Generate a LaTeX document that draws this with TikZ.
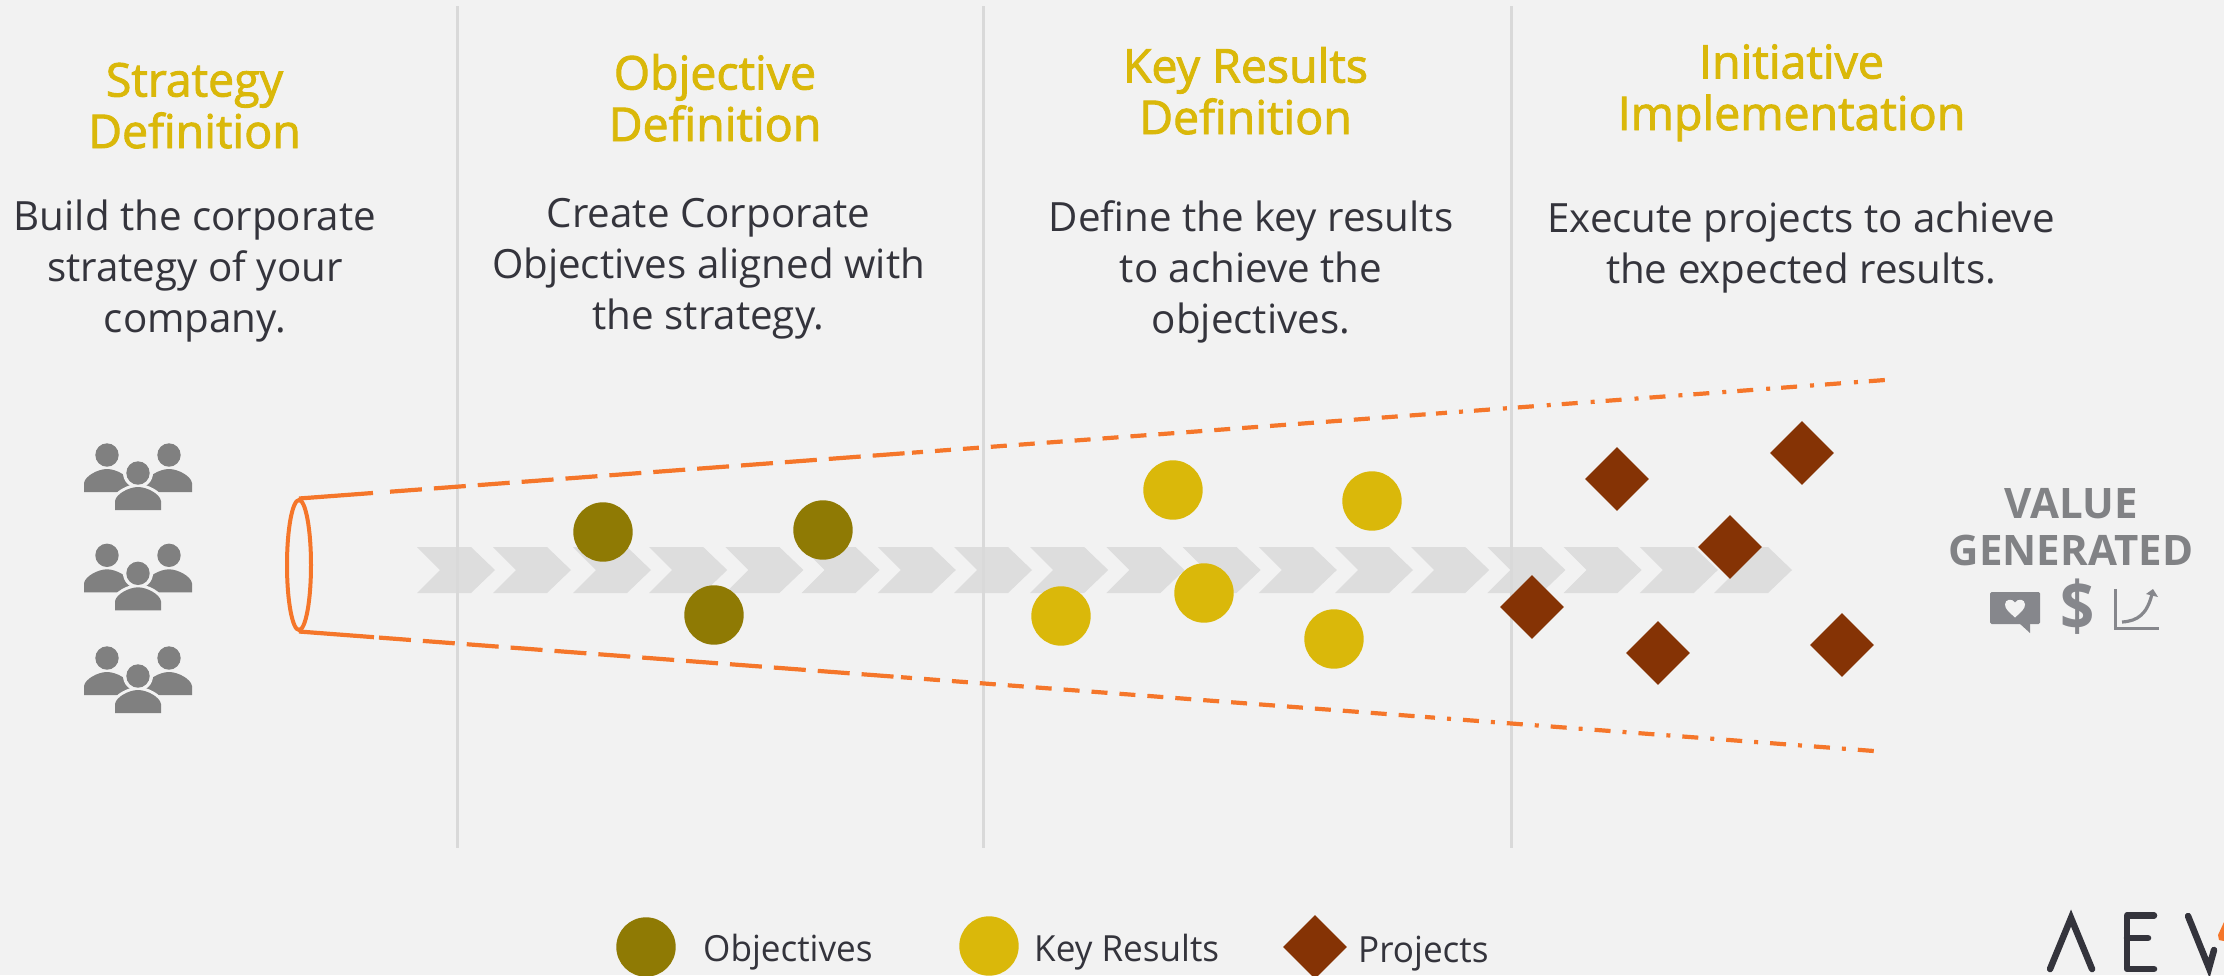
\documentclass[tikz,border=0pt]{standalone}
\usepackage{fontspec}
\setmainfont{Open Sans}
\usetikzlibrary{calc,shapes.geometric}
\definecolor{bgc}{HTML}{F2F2F2}
\definecolor{rulec}{HTML}{D9D9D9}
\definecolor{chevc}{HTML}{DDDDDD}
\definecolor{orangec}{HTML}{F5762A}
\definecolor{objc}{HTML}{8F7A04}
\definecolor{krc}{HTML}{DAB80A}
\definecolor{prc}{HTML}{853305}
\definecolor{inkc}{HTML}{34343C}
\definecolor{greyc}{HTML}{808080}
\definecolor{valc}{HTML}{818285}
\definecolor{iconc}{HTML}{86878C}
\newfontfamily\headfont[FakeBold=2]{Open Sans}
\newfontfamily\bodyfont{Open Sans}
\newfontfamily\legfont[FakeStretch=0.975]{Open Sans}
\newfontfamily\dollarfont[FakeStretch=0.88]{Open Sans}
\tikzset{
  x=1pt,y=-1pt,
  headtext/.style={inner sep=0,anchor=base,align=center,text=krc,font=\headfont\fontsize{46.5}{51.5}\selectfont},
  bodytext/.style={inner sep=0,anchor=base,align=center,text=inkc,font=\bodyfont\fontsize{40.3}{51}\selectfont},
  legendtext/.style={inner sep=0,anchor=base west,text=inkc,font=\legfont\fontsize{36}{44}\selectfont},
  valtext/.style={inner sep=0,anchor=base,align=center,text=valc,font=\bodyfont\bfseries\fontsize{42}{47}\selectfont},
  objdot/.style={circle,fill=objc,minimum size=59.4,inner sep=0},
  krdot/.style={circle,fill=krc,minimum size=59.4,inner sep=0},
  prdia/.style={diamond,fill=prc,aspect=1,minimum width=64,minimum height=64,inner sep=0},
  divider/.style={draw=rulec,line width=3pt},
  conelin/.style={draw=orangec,line width=4.2pt},
  logostroke/.style={draw=inkc,line width=6.5pt,line cap=round,line join=miter},
  person/.pic={
    \fill[greyc] (0,0) circle (11.7);
    \fill[greyc] (-23,55-18) -- (-23,55-18-9) .. controls (-22,55-18-16) and (-9,55-18-23) .. (0,55-18-23)
       .. controls (9,55-18-23) and (22,55-18-16) .. (23,55-18-9) -- (23,55-18) -- cycle;
  },
  halo/.pic={
    \fill[bgc] (0,0) circle (15);
    \draw[bgc,line width=6pt,fill=bgc] (-23,37) -- (-23,28) .. controls (-22,21) and (-9,14) .. (0,14)
       .. controls (9,14) and (22,21) .. (23,28) -- (23,37) -- cycle;
  },
  crowd/.pic={
    \pic at (-31,-18) {person};
    \pic at (31,-18) {person};
    \pic at (0,0) {halo};
    \pic at (0,0) {person};
  },
}
% one piece of a cone edge, cut out by x position along the edge
\newcommand{\coneseg}[6]{%
  \draw[conelin,#6] ($(#1)!{(#3-299)/(#5-299)}!(#2)$) -- ($(#1)!{(#4-299)/(#5-299)}!(#2)$);}
\begin{document}
\begin{tikzpicture}
\useasboundingbox (0,0) rectangle (2224,975);
\clip (0,0) rectangle (2224,975);
\fill[bgc] (0,0) rectangle (2224,975);

% chevron band
\foreach \cx in {417,493,573,649.2,725.4,801.6,877.8,954,1030.2,1106.4,1182.6,1258.8,1335,1411.2,1487.4,1563.6,1639.8,1714}{
  \fill[chevc] (\cx,547) -- (\cx+54,547) -- (\cx+78,570) -- (\cx+54,593) -- (\cx,593) -- (\cx+23,570) -- cycle;
}
% column dividers
\coordinate (d1a) at (457,6); \coordinate (d1b) at (457,848);
\coordinate (d2a) at (983,6);  \coordinate (d2b) at (983,848);
\coordinate (d3a) at (1511,6); \coordinate (d3b) at (1511,848);
\draw[divider] (d1a) -- (d1b);
\draw[divider] (d2a) -- (d2b);
\draw[divider] (d3a) -- (d3b);

% headings
\node[headtext] (h1) at (194.5,148) {Strategy\\Definition};
\node[headtext] (h2) at (715,141) {Objective\\Definition};
\node[headtext] (h3) at (1245.5,134) {Key Results\\Definition};
\node[headtext] (h4) at (1791.5,130) {Initiative\\Implementation};

% descriptions
\node[bodytext] (b1) at (195,332) {Build the corporate\\strategy of your\\company.};
\node[bodytext] (b2) at (708.5,329) {Create Corporate\\Objectives aligned with\\the strategy.};
\node[bodytext] (b3) at (1251,333) {Define the key results\\to achieve the\\objectives.};
\node[bodytext] (b4) at (1801,283) {Execute projects to achieve\\the expected results.};

% people
\pic at (138,473) {crowd};
\pic at (138,573.3) {crowd};
\pic at (138,676) {crowd};

% cone
\node[ellipse,draw=orangec,line width=4pt,minimum width=24,minimum height=130,inner sep=0] (cone) at (299,565) {};
\coordinate (tS) at (299,498.5);
\coordinate (tE) at (1885,380);
\coordinate (bS) at (299,631.5);
\coordinate (bE) at (1874,751);
\coneseg{tS}{tE}{299}{373}{1885}{}
\coneseg{tS}{tE}{390}{905}{1885}{dash pattern=on 32pt off 12pt}
\coneseg{tS}{tE}{912}{923}{1885}{}
\coneseg{tS}{tE}{935}{1426}{1885}{dash pattern=on 16pt off 12pt}
\coneseg{tS}{tE}{1436}{1447}{1885}{}
\coneseg{tS}{tE}{1459}{1885}{1885}{dash pattern=on 4pt off 11pt on 16pt off 13pt}
\coneseg{bS}{bE}{299}{374}{1874}{}
\coneseg{bS}{bE}{379}{894}{1874}{dash pattern=on 32pt off 12pt}
\coneseg{bS}{bE}{901}{912}{1874}{}
\coneseg{bS}{bE}{924}{1415}{1874}{dash pattern=on 16pt off 12pt}
\coneseg{bS}{bE}{1425}{1435}{1874}{}
\coneseg{bS}{bE}{1447}{1874}{1874}{dash pattern=on 4pt off 12pt on 16pt off 12pt}

% objectives
\node[objdot] (o1) at (603,532) {};
\node[objdot] (o2) at (823,530) {};
\node[objdot] (o3) at (714,615) {};
% key results
\node[krdot] (k1) at (1173,490) {};
\node[krdot] (k2) at (1372,501) {};
\node[krdot] (k3) at (1204,593) {};
\node[krdot] (k4) at (1061,616) {};
\node[krdot] (k5) at (1334,639) {};
% projects
\node[prdia] (p1) at (1617,479) {};
\node[prdia] (p2) at (1802,453) {};
\node[prdia] (p3) at (1730,547) {};
\node[prdia] (p4) at (1532,607) {};
\node[prdia] (p5) at (1658,653) {};
\node[prdia] (p6) at (1842,645) {};

% value generated
\node[valtext] (val) at (2071,565) {VALUE\\GENERATED};
\fill[iconc,rounded corners=1.5pt] (1990,592) rectangle (2040,624);
\fill[iconc] (2019,623) -- (2030,633) -- (2030,623) -- cycle;
\fill[bgc] (2015,617.5) .. controls (2009,612) and (2005,609) .. (2005,604.5)
   .. controls (2005,599) and (2012,598) .. (2015,602.5)
   .. controls (2018,598) and (2025,599) .. (2025,604.5)
   .. controls (2025,609) and (2021,612) .. (2015,617.5) -- cycle;
\node[inner sep=0,text=iconc,font=\dollarfont\bfseries\fontsize{68}{68}\selectfont] (dollar) at (2078,607) {\$};
\draw[iconc,line width=3.2pt] (2115.5,589) -- (2115.5,628.5) -- (2159,628.5);
\draw[iconc,line width=3.2pt] (2122,622) .. controls (2138,621) and (2147,614) .. (2152,594);
\fill[iconc] (2153,589) -- (2146,594) -- (2158,597) -- cycle;

% legend
\node[objdot] (lo) at (646,947) {};
\node[legendtext] (lot) at (703,961) {Objectives};
\node[krdot] (lk) at (989,946) {};
\node[legendtext] (lkt) at (1034,961) {Key Results};
\node[prdia] (lp) at (1315,947) {};
\node[legendtext] (lpt) at (1358,962) {Projects};

% logo
\draw[logostroke] (2050,969) -- (2071,918) -- (2092,969);
\draw[logostroke,line join=round] (2154,915.5) -- (2127,915.5) -- (2127,969) -- (2154,969);
\draw[logostroke] (2127,938) -- (2148,938);
\draw[logostroke] (2188,916) -- (2209,968) -- (2214,950);
\fill[orangec] (2224,922) -- (2224,941) -- (2219,940) -- (2218,935) -- cycle;
\end{tikzpicture}
\end{document}
